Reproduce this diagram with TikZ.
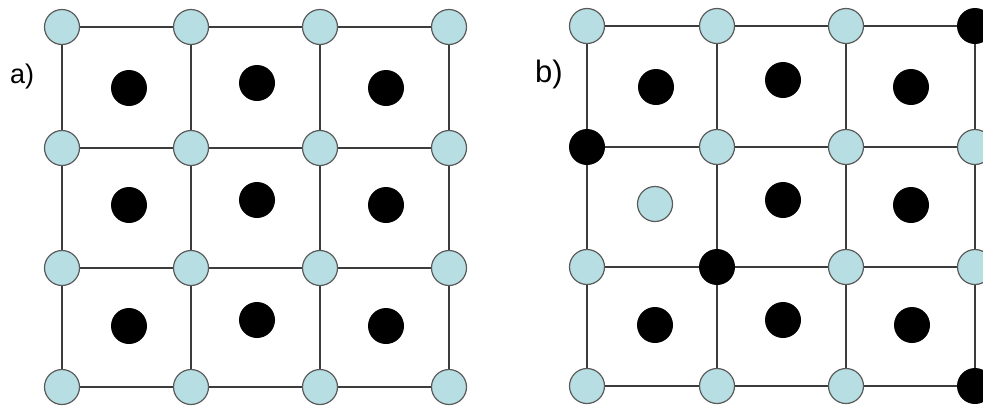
\documentclass[tikz,border=0pt]{standalone}
\usepackage{fontspec}
\setmainfont{Liberation Sans}
\definecolor{lightblue}{RGB}{183,222,226}
\definecolor{edgegray}{RGB}{90,90,90}
\definecolor{linegray}{RGB}{60,60,60}
\begin{document}
\begin{tikzpicture}[x=1pt,y=-1pt,
  lat/.style={circle, draw=edgegray, fill=lightblue, minimum size=35pt, inner sep=0pt, line width=1.2pt},
  blk/.style={circle, fill=black, minimum size=36pt, inner sep=0pt},
  grid/.style={draw=linegray, line width=1.3pt},
  lbl/.style={anchor=base west, inner sep=0pt}]
\useasboundingbox (0,0) rectangle (983,405);
% ---------- panel a ----------
\node[lat] (a11) at (62,27) {};
\node[lat] (a12) at (191,27) {};
\node[lat] (a13) at (320,27) {};
\node[lat] (a14) at (449,27) {};
\node[lat] (a21) at (62,148) {};
\node[lat] (a22) at (191,148) {};
\node[lat] (a23) at (320,148) {};
\node[lat] (a24) at (449,148) {};
\node[lat] (a31) at (62,268) {};
\node[lat] (a32) at (191,268) {};
\node[lat] (a33) at (320,268) {};
\node[lat] (a34) at (449,268) {};
\node[lat] (a41) at (62,387) {};
\node[lat] (a42) at (191,387) {};
\node[lat] (a43) at (320,387) {};
\node[lat] (a44) at (449,387) {};
\foreach \r in {1,2,3,4}{
  \draw[grid] (a\r1) -- (a\r2); \draw[grid] (a\r2) -- (a\r3); \draw[grid] (a\r3) -- (a\r4);
  \draw[grid] (a1\r) -- (a2\r); \draw[grid] (a2\r) -- (a3\r); \draw[grid] (a3\r) -- (a4\r);
}
\node[blk] (ai11) at (129,88) {};
\node[blk] (ai12) at (257,83) {};
\node[blk] (ai13) at (386,88) {};
\node[blk] (ai21) at (129,205) {};
\node[blk] (ai22) at (257,200) {};
\node[blk] (ai23) at (386,205) {};
\node[blk] (ai31) at (129,326) {};
\node[blk] (ai32) at (257,320) {};
\node[blk] (ai33) at (386,326) {};
\node[lbl, font=\fontsize{27}{30}\selectfont] (la) at (10,83) {a)};
% ---------- panel b ----------
\node[lat] (b11) at (587,26) {};
\node[lat] (b12) at (717,26) {};
\node[lat] (b13) at (846,26) {};
\node[blk] (b14) at (975,26) {};
\node[blk] (b21) at (587,147) {};
\node[lat] (b22) at (717,147) {};
\node[lat] (b23) at (846,147) {};
\node[lat] (b24) at (975,147) {};
\node[lat] (b31) at (587,267) {};
\node[blk] (b32) at (717,267) {};
\node[lat] (b33) at (846,267) {};
\node[lat] (b34) at (975,267) {};
\node[lat] (b41) at (587,386) {};
\node[lat] (b42) at (717,386) {};
\node[lat] (b43) at (846,386) {};
\node[blk] (b44) at (975,386) {};
\foreach \r in {1,2,3,4}{
  \draw[grid] (b\r1) -- (b\r2); \draw[grid] (b\r2) -- (b\r3); \draw[grid] (b\r3) -- (b\r4);
  \draw[grid] (b1\r) -- (b2\r); \draw[grid] (b2\r) -- (b3\r); \draw[grid] (b3\r) -- (b4\r);
}
\node[blk] (bi11) at (656,87) {};
\node[blk] (bi12) at (783,80) {};
\node[blk] (bi13) at (911,87) {};
\node[lat] (bi21) at (655,204) {};
\node[blk] (bi22) at (783,200) {};
\node[blk] (bi23) at (911,205) {};
\node[blk] (bi31) at (655,325) {};
\node[blk] (bi32) at (783,320) {};
\node[blk] (bi33) at (912,325) {};
\node[lbl, font=\fontsize{31}{34}\selectfont] (lb) at (535,82) {b)};
\end{tikzpicture}
\end{document}
